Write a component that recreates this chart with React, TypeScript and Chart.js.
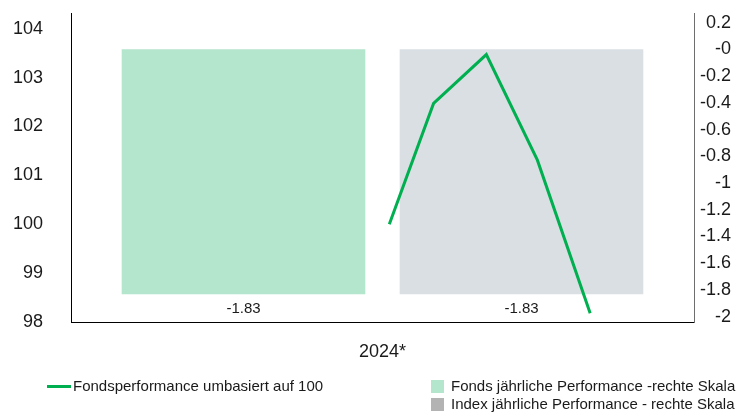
import React, { useEffect, useRef } from "react";
import { Chart, registerables } from "chart.js";

Chart.register(...registerables);

// ---- data ----
const categories = ["2024*"];
const barSlots = [0, 1]; // Fonds, Index (side by side inside the one year)
const fondsAnnual = [-1.83];
const indexAnnual = [-1.83];
const lineDays = [5, 31, 62, 92, 123]; // day of year 2024
const lineValues = [100, 102.47, 103.47, 101.31, 98.18];
const leftTicks = [98, 99, 100, 101, 102, 103, 104];
const rightTicks = [-2, -1.8, -1.6, -1.4, -1.2, -1, -0.8, -0.6, -0.4, -0.2, 0, 0.2];
const legendLine = "Fondsperformance umbasiert auf 100";
const legendFonds = "Fonds jährliche Performance -rechte Skala";
const legendIndex = "Index jährliche Performance - rechte Skala";

// ---- styles ----
const GREEN = "#00b050";
const FONDS = "#b3e6cc";
const INDEX = "#dadfe3";
const INDEX_LEGEND = "#b3b3b3";
const TEXT = "#1a1a1a";
const FONT = "'Liberation Sans', Arial, sans-serif";

const fmtRight = (v: number) => (Math.abs(v) < 1e-9 ? "-0" : String(Number(v.toFixed(1))));

export default function App() {
  const ref = useRef<HTMLCanvasElement | null>(null);

  useEffect(() => {
    if (!ref.current) return;
    Chart.defaults.font.family = FONT;
    Chart.defaults.color = TEXT;

    const labelPlugin = {
      id: "barLabels",
      afterDatasetsDraw(chart: any) {
        const ctx = chart.ctx;
        ctx.save();
        ctx.font = `15px ${FONT}`;
        ctx.fillStyle = TEXT;
        ctx.textAlign = "center";
        ctx.textBaseline = "middle";
        [0, 1].forEach((di) => {
          const meta = chart.getDatasetMeta(di);
          meta.data.forEach((el: any, i: number) => {
            const raw: any = chart.data.datasets[di].data[i];
            ctx.fillText(Number(raw.y).toFixed(2), el.x, el.y + 15);
          });
        });
        ctx.restore();
      },
    };

    const legendPlugin = {
      id: "customLegend",
      afterDraw(chart: any) {
        const ctx = chart.ctx;
        ctx.save();
        ctx.font = `15px ${FONT}`;
        ctx.textBaseline = "middle";
        ctx.textAlign = "left";
        ctx.strokeStyle = GREEN;
        ctx.lineWidth = 3;
        ctx.beginPath();
        ctx.moveTo(47, 386.5);
        ctx.lineTo(71, 386.5);
        ctx.stroke();
        ctx.fillStyle = TEXT;
        ctx.fillText(legendLine, 73, 387);
        ctx.fillStyle = FONDS;
        ctx.fillRect(431, 380, 13, 13);
        ctx.fillStyle = INDEX_LEGEND;
        ctx.fillRect(431, 398, 13, 13);
        ctx.fillStyle = TEXT;
        ctx.fillText(legendFonds, 451, 387);
        ctx.fillText(legendIndex, 451, 405);
        ctx.restore();
      },
    };

    const chart = new Chart(ref.current, {
      type: "bar",
      data: {
        labels: categories,
        datasets: [
          {
            label: legendFonds,
            data: fondsAnnual.map((v) => ({ x: barSlots[0], y: v })),
            backgroundColor: FONDS,
            xAxisID: "xb",
            yAxisID: "y2",
            grouped: false,
            barThickness: 243,
            order: 2,
          } as any,
          {
            label: legendIndex,
            data: indexAnnual.map((v) => ({ x: barSlots[1], y: v })),
            backgroundColor: INDEX,
            xAxisID: "xb",
            yAxisID: "y2",
            grouped: false,
            barThickness: 243,
            order: 2,
          } as any,
          {
            type: "line",
            label: legendLine,
            data: lineDays.map((d, i) => ({ x: d, y: lineValues[i] })),
            borderColor: GREEN,
            backgroundColor: GREEN,
            borderWidth: 3,
            pointRadius: 0,
            tension: 0,
            fill: false,
            xAxisID: "x2",
            yAxisID: "y",
            order: 0,
          } as any,
        ],
      },
      options: {
        responsive: false,
        animation: false,
        layout: { padding: { top: 13, left: 0, right: 20, bottom: 0 } },
        plugins: {
          legend: { display: false },
          tooltip: { enabled: false },
        },
        scales: {
          x: {
            type: "category",
            position: "bottom",
            offset: true,
            grid: { display: false, drawTicks: false },
            border: { display: true, color: "#000", width: 1 },
            ticks: { font: { size: 18 }, color: TEXT, padding: 19 },
            afterFit: (s: any) => {
              s.height = 91;
              s.paddingLeft = 0;
              s.paddingRight = 0;
            },
          },
          xb: {
            type: "linear",
            display: false,
            offset: false,
            min: -0.6205,
            max: 1.6205,
          },
          x2: {
            type: "linear",
            display: false,
            offset: false,
            min: -182,
            max: 184,
          },
          y: {
            type: "linear",
            position: "left",
            min: 98,
            max: 104.32,
            grid: { display: false, drawTicks: false },
            border: { display: true, color: "#000", width: 1 },
            ticks: {
              font: { size: 18 },
              color: TEXT,
              padding: 28,
              callback: (v: any) => String(v),
            },
            afterBuildTicks: (s: any) => {
              s.ticks = leftTicks.map((v) => ({ value: v }));
            },
            afterFit: (s: any) => {
              s.width = 71;
              s.paddingTop = 0;
              s.paddingBottom = 0;
            },
          },
          y2: {
            type: "linear",
            position: "right",
            min: -2.04,
            max: 0.273,
            grid: { display: false, drawTicks: false },
            border: { display: true, color: "#6e6e6e", width: 1 },
            ticks: {
              font: { size: 18 },
              color: TEXT,
              padding: 4,
              crossAlign: "far",
              callback: (v: any) => fmtRight(Number(v)),
            },
            afterBuildTicks: (s: any) => {
              s.ticks = rightTicks.map((v) => ({ value: v }));
            },
            afterFit: (s: any) => {
              s.width = 37;
              s.paddingTop = 0;
              s.paddingBottom = 0;
            },
          },
        },
      } as any,
      plugins: [labelPlugin, legendPlugin],
    });

    return () => chart.destroy();
  }, []);

  return (
    <div style={{ position: "fixed", left: 0, top: 0, width: 751, height: 413, background: "#fff" }}>
      <canvas ref={ref} width={751} height={413} style={{ display: "block", width: 751, height: 413 }} />
    </div>
  );
}
